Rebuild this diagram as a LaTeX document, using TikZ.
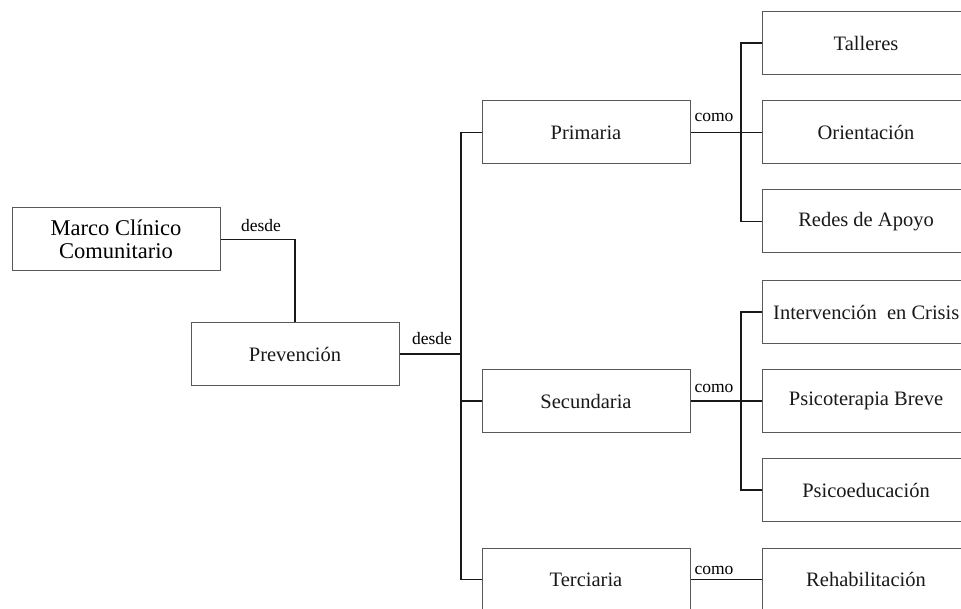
\documentclass[tikz,border=0pt]{standalone}
\usepackage{fontspec}
\setmainfont{Liberation Serif}
\begin{document}
\begin{tikzpicture}[x=1pt,y=-1pt,
  box/.style={draw=black!65, line width=1pt, minimum width=208pt, minimum height=63pt, inner sep=0pt, align=center, font=\fontsize{20.5}{22}\selectfont, text=black!90},
  conn/.style={draw=black!90, line width=1.3pt},
  lbl/.style={font=\fontsize{17.5}{20}\selectfont, inner sep=0pt, anchor=base}]
\useasboundingbox (0,0) rectangle (961,609);
\clip (0,0) rectangle (961,609);
\node[box, font=\fontsize{22.5}{23.5}\selectfont, text=black] (marco) at (116,239.5) {Marco Clínico\\Comunitario};
\node[box] (prev) at (295,354) {Prevención};
\node[box] (prim) at (586,132.5) {Primaria};
\node[box] (sec) at (586,401) {Secundaria};
\node[box] (ter) at (586,579.5) {Terciaria};
\node[box] (tal) at (866,43) {Talleres};
\node[box] (ori) at (866,132.5) {Orientación};
\node[box] (red) at (866,221.5) {Redes de Apoyo};
\node[box] (int) at (866,312) {};
\node[font=\fontsize{20.5}{22}\selectfont, text=black!90, anchor=west, inner sep=0pt] (intt) at (773,312) {Intervención\ \ en Crisis};
\node[box] (psi) at (866,401) {Psicoterapia Breve};
\node[box] (pse) at (866,490) {Psicoeducación};
\node[box] (reh) at (866,579.5) {Rehabilitación};
\coordinate (j1) at (461,354);
\coordinate (j2) at (741,132.5);
\coordinate (j3) at (741,401);
\draw[conn] (marco.east) -| (prev.north);
\draw[conn] (prev.east) -- (j1);
\draw[conn] (j1) |- (prim.west);
\draw[conn] (j1) |- (sec.west);
\draw[conn] (j1) |- (ter.west);
\draw[conn] (prim.east) -- (j2);
\draw[conn] (j2) |- (tal.west);
\draw[conn] (j2) -- (ori.west);
\draw[conn] (j2) |- (red.west);
\draw[conn] (sec.east) -- (j3);
\draw[conn] (j3) |- (int.west);
\draw[conn] (j3) -- (psi.west);
\draw[conn] (j3) |- (pse.west);
\draw[conn] (ter.east) -- (reh.west);
\node[lbl] (l1) at (261,232) {desde};
\node[lbl] (l2) at (432,345) {desde};
\node[lbl] (l3) at (714,122) {como};
\node[lbl] (l4) at (714,392) {como};
\node[lbl] (l5) at (714,574) {como};
\end{tikzpicture}
\end{document}
